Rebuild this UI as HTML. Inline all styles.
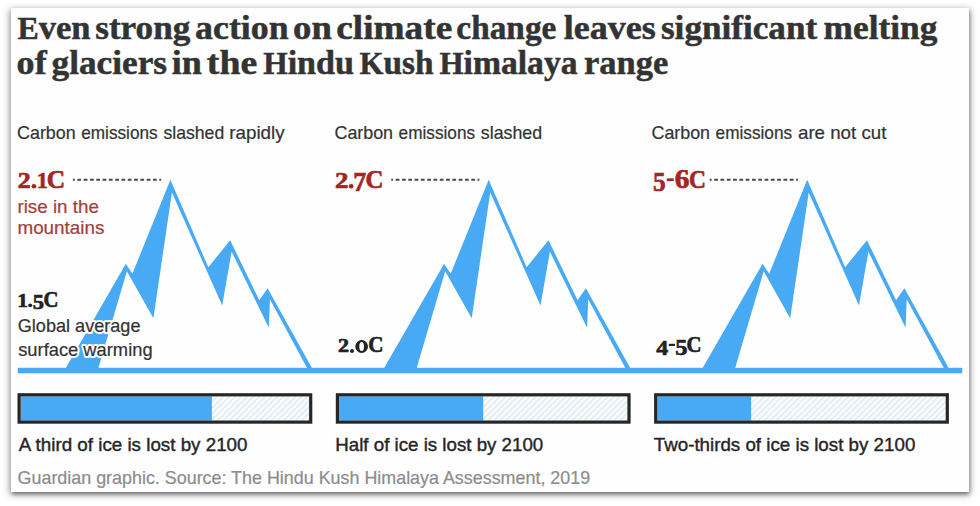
<!DOCTYPE html>
<html>
<head>
<meta charset="utf-8">
<title>Glacier melting graphic</title>
<style>
html,body{margin:0;padding:0;background:#fff;}
body{width:980px;height:506px;position:relative;overflow:hidden;font-family:"Liberation Sans",sans-serif;}
#card{position:absolute;left:10.6px;top:8.2px;width:958.4px;height:483.4px;background:#fefefe;box-shadow:0 1.5px 7px 1px rgba(0,0,0,0.42),0.5px 2.5px 3.5px rgba(0,0,0,0.32);}
svg{position:absolute;left:0;top:0;}
text{white-space:pre;}
</style>
</head>
<body>
<div id="card"></div>
<svg width="980" height="506" viewBox="0 0 980 506">
<defs>
<pattern id="hatch" width="4.25" height="4.25" patternUnits="userSpaceOnUse" patternTransform="rotate(-45)">
<rect width="4.25" height="4.25" fill="#f6fcfe"/>
<rect width="4.25" height="1.1" fill="#dde6ea"/>
</pattern>

</defs>
<g transform="translate(0,0)"><polygon points="64.1,371.0 125.8,263.7 132.4,273.7 170.4,179.8 208.3,267.2 230.2,240.3 259.3,300.2 267.6,288.3 313.6,371.0" fill="#48a9f4"/><polygon points="97.5,371.0 126.9,271.3 153.4,318.3 171.9,192.6 222.2,305.5 231.6,251.6 268.8,327.8 269.9,299.2 308.7,371.0" fill="#fefefe"/></g>
<g transform="translate(318.3,0)"><polygon points="64.1,371.0 125.8,263.7 132.4,273.7 170.4,179.8 208.3,267.2 230.2,240.3 259.3,300.2 267.6,288.3 313.6,371.0" fill="#48a9f4"/><polygon points="97.5,371.0 126.9,271.3 153.4,318.3 171.9,192.6 222.2,305.5 231.6,251.6 268.8,327.8 269.9,299.2 308.7,371.0" fill="#fefefe"/></g>
<g transform="translate(636.8,0)"><polygon points="64.1,371.0 125.8,263.7 132.4,273.7 170.4,179.8 208.3,267.2 230.2,240.3 259.3,300.2 267.6,288.3 313.6,371.0" fill="#48a9f4"/><polygon points="97.5,371.0 126.9,271.3 153.4,318.3 171.9,192.6 222.2,305.5 231.6,251.6 268.8,327.8 269.9,299.2 308.7,371.0" fill="#fefefe"/></g>
<rect x="17.8" y="367.8" width="944.4" height="5.5" fill="#48a9f4"/>
<line x1="72.9" y1="179.7" x2="161.1" y2="179.7" stroke="#4a4a4a" stroke-width="1.9" stroke-dasharray="3.8 2.5" stroke-dashoffset="1.85"/><line x1="391.2" y1="179.7" x2="479.4" y2="179.7" stroke="#4a4a4a" stroke-width="1.9" stroke-dasharray="3.8 2.5" stroke-dashoffset="1.85"/><line x1="709.7" y1="179.7" x2="797.9" y2="179.7" stroke="#4a4a4a" stroke-width="1.9" stroke-dasharray="3.8 2.5" stroke-dashoffset="1.85"/>
<rect x="20.7" y="396.4" width="288.4" height="24.1" fill="url(#hatch)"/><rect x="20.7" y="396.4" width="191.2" height="24.1" fill="#48a9f4"/><rect x="19.10" y="394.80" width="291.60" height="27.30" fill="none" stroke="#262626" stroke-width="3.2"/>
<rect x="339.0" y="396.4" width="288.4" height="24.1" fill="url(#hatch)"/><rect x="339.0" y="396.4" width="144.2" height="24.1" fill="#48a9f4"/><rect x="337.40" y="394.80" width="291.60" height="27.30" fill="none" stroke="#262626" stroke-width="3.2"/>
<rect x="657.3" y="396.4" width="288.4" height="24.1" fill="url(#hatch)"/><rect x="657.3" y="396.4" width="93.8" height="24.1" fill="#48a9f4"/><rect x="655.70" y="394.80" width="291.60" height="27.30" fill="none" stroke="#262626" stroke-width="3.2"/>
<g>
<text x="17.22" y="306.88" font-size="18.40" textLength="10.66" lengthAdjust="spacingAndGlyphs" fill="#fff" stroke="#fff" stroke-width="4" stroke-linejoin="round" style="font-family:'Liberation Serif',serif;font-weight:bold">1</text>
<ellipse cx="30.20" cy="305.35" rx="3.70" ry="3.65" fill="#fff"/>
<text x="32.72" y="309.36" font-size="21.74" textLength="11.28" lengthAdjust="spacingAndGlyphs" fill="#fff" stroke="#fff" stroke-width="4" stroke-linejoin="round" style="font-family:'Liberation Serif',serif;font-weight:bold">5</text>
<text x="43.62" y="307.15" font-size="22.55" textLength="14.94" lengthAdjust="spacingAndGlyphs" fill="#fff" stroke="#fff" stroke-width="4" stroke-linejoin="round" style="font-family:'Liberation Serif',serif;font-weight:bold">C</text>
<text x="338.00" y="352.38" font-size="18.20" textLength="11.02" lengthAdjust="spacingAndGlyphs" fill="#fff" stroke="#fff" stroke-width="4" stroke-linejoin="round" style="font-family:'Liberation Serif',serif;font-weight:bold">2</text>
<ellipse cx="352.00" cy="350.95" rx="3.70" ry="3.65" fill="#fff"/>
<ellipse cx="361.65" cy="346.50" rx="8.15" ry="8.30" fill="#fff"/>
<text x="368.30" y="352.46" font-size="22.10" textLength="15.18" lengthAdjust="spacingAndGlyphs" fill="#fff" stroke="#fff" stroke-width="4" stroke-linejoin="round" style="font-family:'Liberation Serif',serif;font-weight:bold">C</text>
<text x="656.20" y="354.98" font-size="21.95" textLength="11.92" lengthAdjust="spacingAndGlyphs" fill="#fff" stroke="#fff" stroke-width="4" stroke-linejoin="round" style="font-family:'Liberation Serif',serif;font-weight:bold">4</text>
<rect x="667.10" y="342.10" width="9.50" height="5.60" fill="#fff"/>
<text x="675.15" y="354.96" font-size="22.04" textLength="12.22" lengthAdjust="spacingAndGlyphs" fill="#fff" stroke="#fff" stroke-width="4" stroke-linejoin="round" style="font-family:'Liberation Serif',serif;font-weight:bold">5</text>
<text x="686.52" y="352.46" font-size="22.10" textLength="14.94" lengthAdjust="spacingAndGlyphs" fill="#fff" stroke="#fff" stroke-width="4" stroke-linejoin="round" style="font-family:'Liberation Serif',serif;font-weight:bold">C</text>
<text x="17.79" y="331.50" font-size="18.5" textLength="122.71" lengthAdjust="spacingAndGlyphs" fill="#fff" stroke="#fff" stroke-width="4" stroke-linejoin="round" style="font-family:'Liberation Sans',sans-serif;font-weight:normal">Global average</text>
<text x="18.19" y="355.80" font-size="18.5" textLength="134.39" lengthAdjust="spacingAndGlyphs" fill="#fff" stroke="#fff" stroke-width="4" stroke-linejoin="round" style="font-family:'Liberation Sans',sans-serif;font-weight:normal">surface warming</text>
</g>
<g>
<text x="17.46" y="39.30" font-size="31.8" textLength="21.24" lengthAdjust="spacingAndGlyphs" fill="#333333" stroke="#333333" stroke-width="0.5" style="font-family:'Liberation Serif',serif;font-weight:bold">E</text>
<text x="38.70" y="39.30" font-size="34.5" textLength="51.83" lengthAdjust="spacingAndGlyphs" fill="#333333" stroke="#333333" stroke-width="0.5" style="font-family:'Liberation Serif',serif;font-weight:bold">ven</text>
<text x="95.19" y="39.30" font-size="34.5" textLength="95.15" lengthAdjust="spacingAndGlyphs" fill="#333333" stroke="#333333" stroke-width="0.5" style="font-family:'Liberation Serif',serif;font-weight:bold">strong</text>
<text x="195.10" y="39.30" font-size="34.5" textLength="93.45" lengthAdjust="spacingAndGlyphs" fill="#333333" stroke="#333333" stroke-width="0.5" style="font-family:'Liberation Serif',serif;font-weight:bold">action</text>
<text x="293.10" y="39.30" font-size="34.5" textLength="38.70" lengthAdjust="spacingAndGlyphs" fill="#333333" stroke="#333333" stroke-width="0.5" style="font-family:'Liberation Serif',serif;font-weight:bold">on</text>
<text x="336.22" y="39.30" font-size="34.5" textLength="115.99" lengthAdjust="spacingAndGlyphs" fill="#333333" stroke="#333333" stroke-width="0.5" style="font-family:'Liberation Serif',serif;font-weight:bold">climate</text>
<text x="456.36" y="39.30" font-size="34.5" textLength="100.00" lengthAdjust="spacingAndGlyphs" fill="#333333" stroke="#333333" stroke-width="0.5" style="font-family:'Liberation Serif',serif;font-weight:bold">change</text>
<text x="563.80" y="39.30" font-size="34.5" textLength="92.08" lengthAdjust="spacingAndGlyphs" fill="#333333" stroke="#333333" stroke-width="0.5" style="font-family:'Liberation Serif',serif;font-weight:bold">leaves</text>
<text x="660.94" y="39.30" font-size="34.5" textLength="156.22" lengthAdjust="spacingAndGlyphs" fill="#333333" stroke="#333333" stroke-width="0.5" style="font-family:'Liberation Serif',serif;font-weight:bold">significant</text>
<text x="823.55" y="39.30" font-size="34.5" textLength="113.79" lengthAdjust="spacingAndGlyphs" fill="#333333" stroke="#333333" stroke-width="0.5" style="font-family:'Liberation Serif',serif;font-weight:bold">melting</text>
<text x="16.63" y="74.30" font-size="34.5" textLength="30.02" lengthAdjust="spacingAndGlyphs" fill="#333333" stroke="#333333" stroke-width="0.5" style="font-family:'Liberation Serif',serif;font-weight:bold">of</text>
<text x="51.57" y="74.30" font-size="34.5" textLength="115.54" lengthAdjust="spacingAndGlyphs" fill="#333333" stroke="#333333" stroke-width="0.5" style="font-family:'Liberation Serif',serif;font-weight:bold">glaciers</text>
<text x="171.71" y="74.30" font-size="34.5" textLength="30.09" lengthAdjust="spacingAndGlyphs" fill="#333333" stroke="#333333" stroke-width="0.5" style="font-family:'Liberation Serif',serif;font-weight:bold">in</text>
<text x="206.89" y="74.30" font-size="34.5" textLength="50.34" lengthAdjust="spacingAndGlyphs" fill="#333333" stroke="#333333" stroke-width="0.5" style="font-family:'Liberation Serif',serif;font-weight:bold">the</text>
<text x="263.21" y="74.30" font-size="31.8" textLength="24.42" lengthAdjust="spacingAndGlyphs" fill="#333333" stroke="#333333" stroke-width="0.5" style="font-family:'Liberation Serif',serif;font-weight:bold">H</text>
<text x="287.63" y="74.30" font-size="34.5" textLength="66.28" lengthAdjust="spacingAndGlyphs" fill="#333333" stroke="#333333" stroke-width="0.5" style="font-family:'Liberation Serif',serif;font-weight:bold">indu</text>
<text x="359.47" y="74.30" font-size="31.8" textLength="23.93" lengthAdjust="spacingAndGlyphs" fill="#333333" stroke="#333333" stroke-width="0.5" style="font-family:'Liberation Serif',serif;font-weight:bold">K</text>
<text x="383.40" y="74.30" font-size="34.5" textLength="50.11" lengthAdjust="spacingAndGlyphs" fill="#333333" stroke="#333333" stroke-width="0.5" style="font-family:'Liberation Serif',serif;font-weight:bold">ush</text>
<text x="439.47" y="74.30" font-size="31.8" textLength="24.11" lengthAdjust="spacingAndGlyphs" fill="#333333" stroke="#333333" stroke-width="0.5" style="font-family:'Liberation Serif',serif;font-weight:bold">H</text>
<text x="463.58" y="74.30" font-size="34.5" textLength="113.93" lengthAdjust="spacingAndGlyphs" fill="#333333" stroke="#333333" stroke-width="0.5" style="font-family:'Liberation Serif',serif;font-weight:bold">imalaya</text>
<text x="584.07" y="74.30" font-size="34.5" textLength="84.32" lengthAdjust="spacingAndGlyphs" fill="#333333" stroke="#333333" stroke-width="0.5" style="font-family:'Liberation Serif',serif;font-weight:bold">range</text>
<text x="17.09" y="139.40" font-size="18.5" textLength="58.57" lengthAdjust="spacingAndGlyphs" fill="#333333" stroke="#333333" stroke-width="0.22" style="font-family:'Liberation Sans',sans-serif;font-weight:normal">Carbon</text>
<text x="81.17" y="139.40" font-size="18.5" textLength="76.55" lengthAdjust="spacingAndGlyphs" fill="#333333" stroke="#333333" stroke-width="0.22" style="font-family:'Liberation Sans',sans-serif;font-weight:normal">emissions</text>
<text x="334.49" y="139.40" font-size="18.5" textLength="58.57" lengthAdjust="spacingAndGlyphs" fill="#333333" stroke="#333333" stroke-width="0.22" style="font-family:'Liberation Sans',sans-serif;font-weight:normal">Carbon</text>
<text x="398.57" y="139.40" font-size="18.5" textLength="76.55" lengthAdjust="spacingAndGlyphs" fill="#333333" stroke="#333333" stroke-width="0.22" style="font-family:'Liberation Sans',sans-serif;font-weight:normal">emissions</text>
<text x="651.49" y="139.40" font-size="18.5" textLength="58.57" lengthAdjust="spacingAndGlyphs" fill="#333333" stroke="#333333" stroke-width="0.22" style="font-family:'Liberation Sans',sans-serif;font-weight:normal">Carbon</text>
<text x="715.57" y="139.40" font-size="18.5" textLength="76.55" lengthAdjust="spacingAndGlyphs" fill="#333333" stroke="#333333" stroke-width="0.22" style="font-family:'Liberation Sans',sans-serif;font-weight:normal">emissions</text>
<text x="163.41" y="139.40" font-size="18.5" textLength="60.83" lengthAdjust="spacingAndGlyphs" fill="#333333" stroke="#333333" stroke-width="0.22" style="font-family:'Liberation Sans',sans-serif;font-weight:normal">slashed</text>
<text x="229.25" y="139.40" font-size="18.5" textLength="55.39" lengthAdjust="spacingAndGlyphs" fill="#333333" stroke="#333333" stroke-width="0.22" style="font-family:'Liberation Sans',sans-serif;font-weight:normal">rapidly</text>
<text x="480.80" y="139.40" font-size="18.5" textLength="61.34" lengthAdjust="spacingAndGlyphs" fill="#333333" stroke="#333333" stroke-width="0.22" style="font-family:'Liberation Sans',sans-serif;font-weight:normal">slashed</text>
<text x="798.01" y="139.40" font-size="18.5" textLength="88.33" lengthAdjust="spacingAndGlyphs" fill="#333333" stroke="#333333" stroke-width="0.22" style="font-family:'Liberation Sans',sans-serif;font-weight:normal">are not cut</text>
<text x="17.84" y="187.98" font-size="22.43" textLength="12.95" lengthAdjust="spacingAndGlyphs" fill="#a42522" stroke="#a42522" stroke-width="0.65" style="font-family:'Liberation Serif',serif;font-weight:bold">2</text>
<ellipse cx="33.95" cy="186.20" rx="2.35" ry="2.20" fill="#a42522"/>
<text x="36.73" y="187.98" font-size="22.49" textLength="11.20" lengthAdjust="spacingAndGlyphs" fill="#a42522" stroke="#a42522" stroke-width="0.65" style="font-family:'Liberation Serif',serif;font-weight:bold">1</text>
<text x="46.68" y="187.92" font-size="26.12" textLength="18.44" lengthAdjust="spacingAndGlyphs" fill="#a42522" stroke="#a42522" stroke-width="0.65" style="font-family:'Liberation Serif',serif;font-weight:bold">C</text>
<text x="335.00" y="187.98" font-size="22.13" textLength="13.43" lengthAdjust="spacingAndGlyphs" fill="#a42522" stroke="#a42522" stroke-width="0.65" style="font-family:'Liberation Serif',serif;font-weight:bold">2</text>
<ellipse cx="351.15" cy="186.20" rx="2.35" ry="2.20" fill="#a42522"/>
<text x="353.34" y="191.18" font-size="26.96" textLength="12.96" lengthAdjust="spacingAndGlyphs" fill="#a42522" stroke="#a42522" stroke-width="0.65" style="font-family:'Liberation Serif',serif;font-weight:bold">7</text>
<text x="365.51" y="187.92" font-size="26.12" textLength="17.96" lengthAdjust="spacingAndGlyphs" fill="#a42522" stroke="#a42522" stroke-width="0.65" style="font-family:'Liberation Serif',serif;font-weight:bold">C</text>
<text x="653.11" y="190.92" font-size="26.56" textLength="12.70" lengthAdjust="spacingAndGlyphs" fill="#a42522" stroke="#a42522" stroke-width="0.65" style="font-family:'Liberation Serif',serif;font-weight:bold">5</text>
<rect x="666.80" y="178.40" width="7.00" height="2.60" fill="#a42522"/>
<text x="674.72" y="188.12" font-size="26.42" textLength="14.72" lengthAdjust="spacingAndGlyphs" fill="#a42522" stroke="#a42522" stroke-width="0.65" style="font-family:'Liberation Serif',serif;font-weight:bold">6</text>
<text x="688.88" y="187.92" font-size="26.12" textLength="16.99" lengthAdjust="spacingAndGlyphs" fill="#a42522" stroke="#a42522" stroke-width="0.65" style="font-family:'Liberation Serif',serif;font-weight:bold">C</text>
<text x="17.45" y="212.70" font-size="18.5" textLength="81.48" lengthAdjust="spacingAndGlyphs" fill="#a3403c" stroke="#a3403c" stroke-width="0.22" style="font-family:'Liberation Sans',sans-serif;font-weight:normal">rise in the</text>
<text x="17.45" y="234.00" font-size="18.5" textLength="86.93" lengthAdjust="spacingAndGlyphs" fill="#a3403c" stroke="#a3403c" stroke-width="0.22" style="font-family:'Liberation Sans',sans-serif;font-weight:normal">mountains</text>
<text x="17.22" y="306.88" font-size="18.40" textLength="10.66" lengthAdjust="spacingAndGlyphs" fill="#222222" stroke="#222222" stroke-width="0.65" style="font-family:'Liberation Serif',serif;font-weight:bold">1</text>
<ellipse cx="30.20" cy="305.35" rx="2.00" ry="1.95" fill="#222222"/>
<text x="32.72" y="309.36" font-size="21.74" textLength="11.28" lengthAdjust="spacingAndGlyphs" fill="#222222" stroke="#222222" stroke-width="0.65" style="font-family:'Liberation Serif',serif;font-weight:bold">5</text>
<text x="43.62" y="307.15" font-size="22.55" textLength="14.94" lengthAdjust="spacingAndGlyphs" fill="#222222" stroke="#222222" stroke-width="0.65" style="font-family:'Liberation Serif',serif;font-weight:bold">C</text>
<text x="338.00" y="352.38" font-size="18.20" textLength="11.02" lengthAdjust="spacingAndGlyphs" fill="#222222" stroke="#222222" stroke-width="0.65" style="font-family:'Liberation Serif',serif;font-weight:bold">2</text>
<ellipse cx="352.00" cy="350.95" rx="2.00" ry="1.95" fill="#222222"/>
<path d="M355.30,346.50a6.35,6.50 0 1,0 12.70,0a6.35,6.50 0 1,0 -12.70,0zM359.30,346.50a2.35,4.50 0 1,0 4.70,0a2.35,4.50 0 1,0 -4.70,0z" fill="#222222" fill-rule="evenodd"/>
<text x="368.30" y="352.46" font-size="22.10" textLength="15.18" lengthAdjust="spacingAndGlyphs" fill="#222222" stroke="#222222" stroke-width="0.65" style="font-family:'Liberation Serif',serif;font-weight:bold">C</text>
<text x="656.20" y="354.98" font-size="21.95" textLength="11.92" lengthAdjust="spacingAndGlyphs" fill="#222222" stroke="#222222" stroke-width="0.65" style="font-family:'Liberation Serif',serif;font-weight:bold">4</text>
<rect x="668.80" y="343.80" width="6.10" height="2.20" fill="#222222"/>
<text x="675.15" y="354.96" font-size="22.04" textLength="12.22" lengthAdjust="spacingAndGlyphs" fill="#222222" stroke="#222222" stroke-width="0.65" style="font-family:'Liberation Serif',serif;font-weight:bold">5</text>
<text x="686.52" y="352.46" font-size="22.10" textLength="14.94" lengthAdjust="spacingAndGlyphs" fill="#222222" stroke="#222222" stroke-width="0.65" style="font-family:'Liberation Serif',serif;font-weight:bold">C</text>
<text x="17.79" y="331.50" font-size="18.5" textLength="122.71" lengthAdjust="spacingAndGlyphs" fill="#333333" stroke="#333333" stroke-width="0.22" style="font-family:'Liberation Sans',sans-serif;font-weight:normal">Global average</text>
<text x="18.19" y="355.80" font-size="18.5" textLength="134.39" lengthAdjust="spacingAndGlyphs" fill="#333333" stroke="#333333" stroke-width="0.22" style="font-family:'Liberation Sans',sans-serif;font-weight:normal">surface warming</text>
<text x="18.86" y="450.80" font-size="18.6" textLength="228.67" lengthAdjust="spacingAndGlyphs" fill="#262626" stroke="#262626" stroke-width="0.4" style="font-family:'Liberation Sans',sans-serif;font-weight:normal">A third of ice is lost by 2100</text>
<text x="335.27" y="450.80" font-size="18.6" textLength="207.97" lengthAdjust="spacingAndGlyphs" fill="#262626" stroke="#262626" stroke-width="0.4" style="font-family:'Liberation Sans',sans-serif;font-weight:normal">Half of ice is lost by 2100</text>
<text x="653.78" y="450.80" font-size="18.6" textLength="261.55" lengthAdjust="spacingAndGlyphs" fill="#262626" stroke="#262626" stroke-width="0.4" style="font-family:'Liberation Sans',sans-serif;font-weight:normal">Two-thirds of ice is lost by 2100</text>
<text x="17.60" y="483.60" font-size="18.5" textLength="572.54" lengthAdjust="spacingAndGlyphs" fill="#8c8c8c" stroke="#8c8c8c" stroke-width="0.2" style="font-family:'Liberation Sans',sans-serif;font-weight:normal">Guardian graphic. Source: The Hindu Kush Himalaya Assessment, 2019</text>
</g>
</svg>
</body>
</html>
